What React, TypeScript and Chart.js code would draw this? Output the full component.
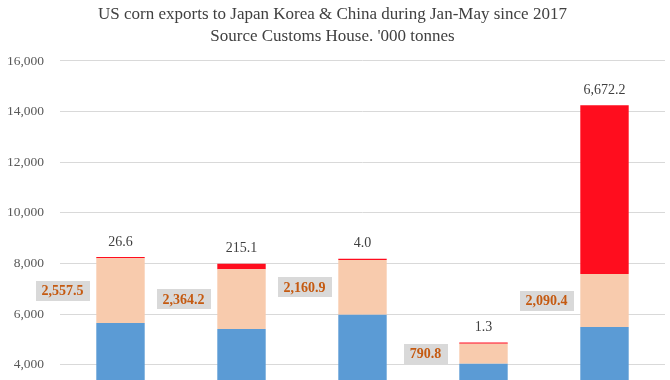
import React, { useEffect, useRef } from "react";
import { Chart, registerables } from "chart.js";

Chart.register(...registerables);

const categories = ["2017", "2018", "2019", "2020", "2021"];
const japan = [5650, 5410, 5980, 4040, 5490];
const korea = [2557.5, 2364.2, 2160.9, 790.8, 2090.4];
const china = [26.6, 215.1, 4.0, 1.3, 6672.2];
const titleLines = [
  "US corn exports to Japan Korea & China during Jan-May since 2017",
  "Source Customs House. '000 tonnes",
];

const fmt = (v: number) =>
  v.toLocaleString("en-US", { minimumFractionDigits: 1, maximumFractionDigits: 1 });

const labelPlugin = {
  id: "segLabels",
  afterDatasetsDraw(chart: any) {
    const ctx = chart.ctx;
    ctx.save();
    // Korea labels in grey boxes to the left of the bars
    const mk = chart.getDatasetMeta(1);
    ctx.font = "bold 14px 'Liberation Serif'";
    ctx.textAlign = "center";
    ctx.textBaseline = "middle";
    mk.data.forEach((el: any, i: number) => {
      const txt = fmt(korea[i]);
      const w = ctx.measureText(txt).width + 12;
      const h = 20;
      const cx = el.x - 58;
      const cy = (el.y + el.base) / 2;
      ctx.fillStyle = "#D9D9D9";
      ctx.fillRect(Math.round(cx - w / 2), Math.round(cy - h / 2), Math.round(w), h);
      ctx.fillStyle = "#C55A11";
      ctx.fillText(txt, cx, cy + 1);
    });
    // China labels above bars
    const mc = chart.getDatasetMeta(2);
    ctx.font = "14px 'Liberation Serif'";
    ctx.fillStyle = "#404040";
    mc.data.forEach((el: any, i: number) => {
      ctx.fillText(fmt(china[i]), el.x, el.y - 15);
    });
    ctx.restore();
  },
};

export default function App() {
  const ref = useRef<HTMLCanvasElement>(null);
  useEffect(() => {
    document.body.style.margin = "0";
    const chart = new Chart(ref.current as HTMLCanvasElement, {
      type: "bar",
      data: {
        labels: categories,
        datasets: [
          { label: "Japan", data: japan, backgroundColor: "#5B9BD5", borderWidth: 0 },
          { label: "Korea", data: korea, backgroundColor: "#F8CBAD", borderWidth: 0 },
          { label: "China", data: china, backgroundColor: "#FF0D1E", borderWidth: 0, minBarLength: 1.3 },
        ],
      },
      options: {
        responsive: false,
        animation: false,
        barPercentage: 0.4,
        categoryPercentage: 1,
        layout: { padding: { left: 0, right: 5, top: 0, bottom: 0 } },
        plugins: {
          legend: { display: false },
          tooltip: { enabled: false },
          title: {
            display: true,
            text: titleLines,
            color: "#404040",
            font: { family: "'Liberation Serif'", size: 17, weight: "normal", lineHeight: 1.294 },
            padding: { top: 4, bottom: 13 },
          },
        },
        scales: {
          x: {
            stacked: true,
            grid: { display: false },
            border: { display: true, color: "#D9D9D9" },
            ticks: { color: "#595959", font: { family: "'Liberation Serif'", size: 14 } },
            afterFit: (s: any) => {
              s.height = 30;
            },
          },
          y: {
            stacked: true,
            min: 0,
            max: 16000,
            ticks: {
              stepSize: 2000,
              color: "#595959",
              padding: 16,
              font: { family: "'Liberation Serif'", size: 13.5 },
            },
            grid: { color: "#D9D9D9", drawTicks: false, lineWidth: 1 },
            border: { display: false },
            afterFit: (s: any) => {
              s.width = 60;
            },
          },
        },
      } as any,
      plugins: [labelPlugin],
    });
    return () => chart.destroy();
  }, []);
  return (
    <div style={{ width: 670, height: 380, overflow: "hidden", position: "relative", background: "#fff" }}>
      <canvas ref={ref} width={670} height={496} style={{ display: "block", width: 670, height: 496 }} />
    </div>
  );
}
